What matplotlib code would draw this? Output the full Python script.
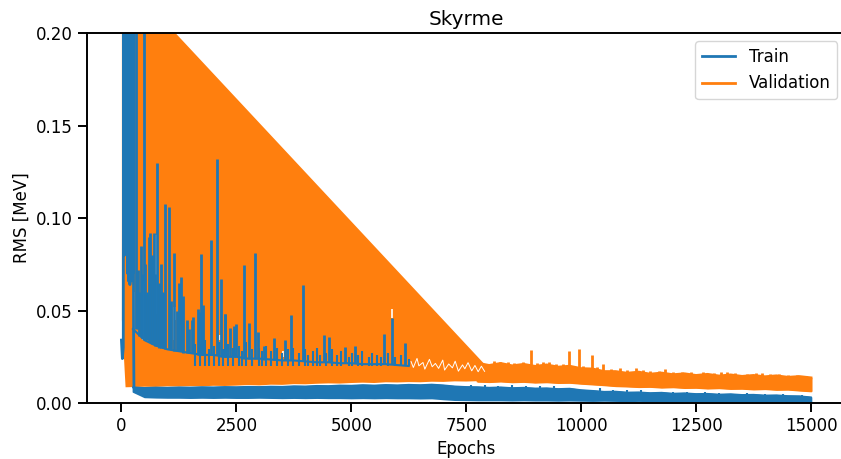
import numpy as np
import matplotlib.pyplot as plt

# epochs at which the noisy bands were sampled
band_epochs = np.arange(250, 15001, 250)

# validation RMS, lower edge of the band (MeV)
val_lo = [0.0086, 0.0088, 0.0087, 0.0090, 0.0089, 0.0091, 0.0090, 0.0093, 0.0092, 0.0094,
          0.0097, 0.0095, 0.0099, 0.0098, 0.0102, 0.0101, 0.0104, 0.0106, 0.0105, 0.0108,
          0.0110, 0.0108, 0.0112, 0.0111, 0.0113, 0.0112, 0.0115, 0.0114, 0.0117, 0.0116,
          0.0118, 0.0116, 0.0119, 0.0115, 0.0117, 0.0113, 0.0115, 0.0111, 0.0112, 0.0107,
          0.0103, 0.0099, 0.0094, 0.0092, 0.0089, 0.0090, 0.0086, 0.0088, 0.0084, 0.0085,
          0.0081, 0.0083, 0.0079, 0.0080, 0.0076, 0.0078, 0.0074, 0.0075, 0.0070, 0.0066]
# validation RMS, upper edge of the band from epoch 7750 on
val_hi_tail = [0.0215, 0.0203, 0.0214, 0.0201, 0.0209, 0.0198, 0.0206, 0.0194, 0.0199, 0.0186,
               0.0184, 0.0170, 0.0170, 0.0161, 0.0167, 0.0156, 0.0162, 0.0153, 0.0158, 0.0149,
               0.0155, 0.0146, 0.0152, 0.0144, 0.0149, 0.0142, 0.0147, 0.0139, 0.0143, 0.0136]
tail_start = 30  # index of epoch 7750 in band_epochs

# validation: start of the run and the long straight jump
val_start_epochs = [10, 10, 90]
val_start_rms = [0.231, 0.045, 0.0085]
val_jump_epochs = [10, 7950]
val_jump_rms = [0.231, 0.0196]

# validation spikes after epoch 8000
val_spike_epochs = [8239, 8732, 8906, 9180, 9746, 9963, 10232, 10485, 10848, 11196, 11826, 13167, 13928,
                    8100, 8400, 8550, 9050, 9300, 9450, 9600, 10050, 10350, 10650, 11000, 11350,
                    11500, 11700, 12000, 12200, 12400, 12650, 12900, 13050, 13350, 13600, 13800,
                    14100, 14300, 14500, 14700, 14900]
val_spike_top = [0.0220, 0.0222, 0.0286, 0.0223, 0.0283, 0.0290, 0.0260, 0.0209, 0.0190, 0.0191,
                 0.0185, 0.0165, 0.0160,
                 0.0225, 0.0222, 0.0218, 0.0216, 0.0220, 0.0210, 0.0212, 0.0200, 0.0195, 0.0185,
                 0.0180, 0.0178, 0.0172, 0.0175, 0.0168, 0.0170, 0.0165, 0.0166, 0.0162, 0.0165,
                 0.0160, 0.0158, 0.0160, 0.0156, 0.0158, 0.0152, 0.0150, 0.0148]
val_spike_base = [0.0130] * 13 + [0.0125] * 28

# white gaps inside the validation band
gap_epochs = [6300, 6350, 6430, 6470, 6560, 6600, 6700, 6760, 6830, 6900, 6990, 7030, 7120,
              7200, 7260, 7330, 7420, 7470, 7540, 7620, 7690, 7760, 7830, 7900]
gap_rms = [0.0224, 0.0192, 0.0241, 0.0201, 0.0219, 0.0183, 0.0236, 0.0196, 0.0214, 0.0187,
           0.0232, 0.0178, 0.0211, 0.0190, 0.0226, 0.0172, 0.0206, 0.0185, 0.0218, 0.0174,
           0.0203, 0.0169, 0.0199, 0.0171]
streak_epochs = [268, 465, 741, 1138, 1160, 1304, 1700, 2152, 2500, 3522, 5884]
streak_lo = [0.030, 0.034, 0.048, 0.034, 0.045, 0.036, 0.032, 0.034, 0.027, 0.025, 0.046]
streak_hi = [0.060, 0.066, 0.091, 0.052, 0.052, 0.042, 0.040, 0.037, 0.031, 0.028, 0.051]

# train RMS band (MeV)
train_lo = [0.0062, 0.0033, 0.0031, 0.0030, 0.0030, 0.0029, 0.0030, 0.0029, 0.0030, 0.0029,
            0.0029, 0.0030, 0.0029, 0.0028, 0.0029, 0.0028, 0.0029, 0.0028, 0.0028, 0.0027,
            0.0028, 0.0027, 0.0028, 0.0027, 0.0027, 0.0026, 0.0027, 0.0022, 0.0018, 0.0017,
            0.0016, 0.0016, 0.0016, 0.0015, 0.0016, 0.0015, 0.0015, 0.0014, 0.0015, 0.0014,
            0.0013, 0.0014, 0.0013, 0.0012, 0.0013, 0.0012, 0.0012, 0.0011, 0.0012, 0.0011,
            0.0011, 0.0010, 0.0010, 0.0010, 0.0009, 0.0009, 0.0009, 0.0008, 0.0008, 0.0008]
train_hi = [0.0085, 0.0082, 0.0084, 0.0083, 0.0085, 0.0084, 0.0086, 0.0085, 0.0087, 0.0086,
            0.0088, 0.0087, 0.0089, 0.0088, 0.0091, 0.0090, 0.0093, 0.0092, 0.0095, 0.0094,
            0.0097, 0.0095, 0.0098, 0.0096, 0.0099, 0.0097, 0.0100, 0.0096, 0.0090, 0.0087,
            0.0086, 0.0083, 0.0085, 0.0081, 0.0083, 0.0079, 0.0080, 0.0076, 0.0078, 0.0070,
            0.0066, 0.0061, 0.0062, 0.0057, 0.0058, 0.0054, 0.0056, 0.0051, 0.0053, 0.0049,
            0.0050, 0.0046, 0.0048, 0.0044, 0.0045, 0.0041, 0.0042, 0.0038, 0.0037, 0.0031]
# upper train trace, epochs 250..6250
train_trend = [0.040, 0.034, 0.031, 0.029, 0.028, 0.027, 0.026, 0.026, 0.025, 0.025,
               0.024, 0.024, 0.0235, 0.023, 0.023, 0.0225, 0.022, 0.022, 0.0215, 0.0215,
               0.021, 0.021, 0.021, 0.0205, 0.020]

# first epochs of training, oscillating hard
train_early_epochs = [0, 20, 40, 48, 56, 64, 72, 80, 88, 96, 104, 112, 120, 128, 136, 144, 152,
                      160, 168, 176, 184, 192, 200, 208, 216, 224, 232, 240, 248, 256, 264, 272]
train_early_rms = [0.034, 0.024, 0.030, 0.25, 0.085, 0.25, 0.080, 0.25, 0.087, 0.25, 0.082, 0.25,
                   0.090, 0.25, 0.070, 0.25, 0.066, 0.25, 0.068, 0.25, 0.064, 0.25, 0.070, 0.25,
                   0.066, 0.25, 0.068, 0.25, 0.070, 0.25, 0.040, 0.0086]

# large train spikes
train_spike_epochs = [326, 350, 380, 420, 450, 486, 520, 560, 594, 630, 660, 703, 740, 776, 820,
                      860, 900, 957, 1029, 1080, 1152, 1200, 1261, 1304, 1350, 1420, 1480, 1536,
                      1558, 1667, 1680, 1732, 1775, 1957, 2080, 2167, 2254, 2261, 2370, 2457,
                      2500, 2674, 2768, 2899, 2964, 3094, 3326, 3565, 3696, 3942, 4398, 4507,
                      4870, 5087, 5703, 5884, 6174]
train_spike_top = [0.25, 0.072, 0.060, 0.085, 0.070, 0.25, 0.075, 0.060, 0.090, 0.092, 0.080,
                   0.092, 0.070, 0.130, 0.065, 0.075, 0.060, 0.1076, 0.1058, 0.055, 0.081,
                   0.050, 0.0647, 0.0683, 0.058, 0.045, 0.040, 0.045, 0.0467, 0.0506, 0.049,
                   0.0804, 0.053, 0.0881, 0.132, 0.067, 0.048, 0.0481, 0.0404, 0.0416, 0.0425,
                   0.0744, 0.0431, 0.0809, 0.0386, 0.031, 0.0349, 0.034, 0.0476, 0.0638,
                   0.0368, 0.0359, 0.0305, 0.031, 0.0373, 0.0458, 0.0323]
train_spike_base = [0.040, 0.040, 0.036, 0.036, 0.035, 0.035, 0.034, 0.034, 0.033, 0.033, 0.032,
                    0.032, 0.031, 0.031, 0.030, 0.030, 0.030, 0.029, 0.029, 0.029, 0.028,
                    0.028, 0.028, 0.028, 0.027, 0.027, 0.027, 0.027, 0.027, 0.026, 0.026,
                    0.026, 0.026, 0.026, 0.026, 0.025, 0.025, 0.025, 0.025, 0.025, 0.025,
                    0.024, 0.024, 0.024, 0.024, 0.0235, 0.0235, 0.023, 0.023, 0.0225, 0.022,
                    0.022, 0.0215, 0.0215, 0.021, 0.021, 0.0205]
# small ripples on the upper train trace and on the band
train_ripple_epochs = [1600, 1700, 1820, 1900, 2020, 2120, 2200, 2320, 2420, 2560, 2620, 2720,
                       2840, 3000, 3050, 3150, 3260, 3380, 3500, 3620, 3740, 3860, 4000, 4050,
                       4160, 4250, 4330, 4460, 4580, 4700, 4780, 4950, 5020, 5150, 5230, 5380,
                       5450, 5560, 5640, 5800, 5950, 6080, 6250,
                       7600, 7900, 8200, 8500, 8800, 9100, 9400, 10400, 10700, 11000, 11300,
                       12000, 12300, 12700, 13000, 13600, 14000, 14400, 14800]
train_ripple_top = [0.032, 0.030, 0.034, 0.029, 0.031, 0.033, 0.029, 0.032, 0.030, 0.031, 0.028,
                    0.033, 0.029, 0.030, 0.028, 0.031, 0.028, 0.030, 0.027, 0.029, 0.030, 0.027,
                    0.029, 0.026, 0.028, 0.030, 0.026, 0.027, 0.029, 0.026, 0.028, 0.025, 0.027,
                    0.026, 0.028, 0.025, 0.027, 0.026, 0.025, 0.027, 0.025, 0.026, 0.024,
                    0.0098, 0.0095, 0.0093, 0.0096, 0.0092, 0.0090, 0.0093, 0.0080, 0.0072,
                    0.0070, 0.0068, 0.0062, 0.0060, 0.0058, 0.0056, 0.0052, 0.0050, 0.0048,
                    0.0045]
train_ripple_base = [0.020] * 43 + [0.0030] * 19

blue = '#1f77b4'
orange = '#ff7f0e'

plt.rcParams['font.family'] = 'DejaVu Sans'
fig = plt.figure(figsize=(8.41, 4.59), dpi=100)
ax = fig.add_axes([0.1034, 0.122, 0.9019, 0.8061])

# validation: solid region under the straight jump, then the noisy tail
poly_x = val_jump_epochs + list(band_epochs[:tail_start + 1][::-1]) + val_start_epochs[::-1]
poly_y = val_jump_rms + list(val_lo[:tail_start + 1][::-1]) + val_start_rms[::-1]
ax.fill(poly_x, poly_y, color=orange, lw=0, zorder=1)
ax.fill_between(band_epochs[tail_start:], val_lo[tail_start:], val_hi_tail,
                color=orange, lw=1.5, zorder=1)
val_line, = ax.plot(band_epochs[tail_start:], val_hi_tail, color=orange, lw=2, zorder=1,
                    label='Validation')
ax.plot(band_epochs[tail_start:], val_lo[tail_start:], color=orange, lw=1.5, zorder=1)
ax.vlines(val_spike_epochs, val_spike_base, val_spike_top, color=orange, lw=2, zorder=1)
ax.plot(gap_epochs, gap_rms, color='white', lw=0.7, zorder=1.5)
ax.vlines(streak_epochs, streak_lo, streak_hi, color='white', lw=1.2, zorder=1.5)

# train
ax.fill_between(band_epochs, train_lo, train_hi, color=blue, lw=1.2, zorder=2)
ax.plot(band_epochs, train_hi, color=blue, lw=1.2, zorder=2)
ax.plot(train_early_epochs, train_early_rms, color=blue, lw=2, zorder=2)
train_line, = ax.plot(band_epochs[:25], train_trend, color=blue, lw=1.5, zorder=2, label='Train')
ax.vlines(train_spike_epochs, train_spike_base, train_spike_top, color=blue, lw=2, zorder=2)
ax.vlines(train_ripple_epochs, train_ripple_base, train_ripple_top, color=blue, lw=1.5, zorder=2)

ax.set_xlim(-750, 15750)
ax.set_ylim(0, 0.2)
ax.set_xticks([0, 2500, 5000, 7500, 10000, 12500, 15000])
ax.set_yticks([0.0, 0.05, 0.10, 0.15, 0.20])
ax.set_yticklabels(['0.00', '0.05', '0.10', '0.15', '0.20'])
ax.tick_params(labelsize=12, length=6.5, width=1.4)
for side in ['left', 'bottom', 'top', 'right']:
    ax.spines[side].set_linewidth(1.4)

ax.set_title('Skyrme', fontsize=14.4)
ax.set_xlabel('Epochs', fontsize=12)
ax.set_ylabel('RMS [MeV]', fontsize=12)
leg = ax.legend(handles=[train_line, val_line], loc='upper right', fontsize=12)
leg.legend_handles[0].set_linewidth(2)

fig.savefig('out.png', dpi=100)
